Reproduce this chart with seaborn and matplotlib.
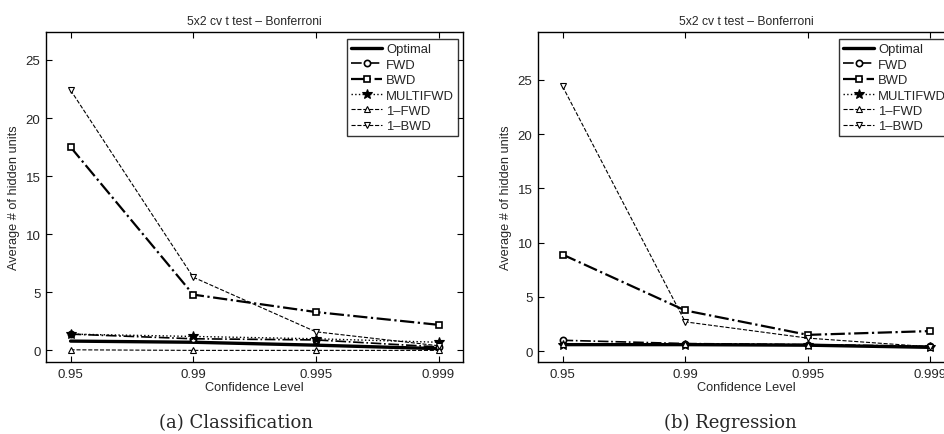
import matplotlib
matplotlib.use("Agg")
import matplotlib.pyplot as plt
import seaborn as sns
import numpy as np

levels = ["0.95", "0.99", "0.995", "0.999"]
series_names = ["Optimal", "FWD", "BWD", "MULTIFWD", "1\u2013FWD", "1\u2013BWD"]

cls_optimal = [0.8, 0.7, 0.45, 0.15]
cls_fwd = [1.4, 1.0, 0.9, 0.3]
cls_bwd = [17.5, 4.8, 3.3, 2.2]
cls_multifwd = [1.4, 1.2, 1.0, 0.7]
cls_1fwd = [0.05, 0.0, 0.0, 0.0]
cls_1bwd = [22.4, 6.3, 1.6, 0.4]

reg_optimal = [0.6, 0.6, 0.55, 0.35]
reg_fwd = [1.0, 0.7, 0.6, 0.45]
reg_bwd = [8.9, 3.75, 1.5, 1.85]
reg_multifwd = [0.6, 0.6, 0.6, 0.35]
reg_1fwd = [0.7, 0.7, 0.6, 0.4]
reg_1bwd = [24.4, 2.7, 1.2, 0.4]

title = "5x2 cv t test \u2013 Bonferroni"
xlabel = "Confidence Level"
ylabel = "Average # of hidden units"
captions = ["(a) Classification", "(b) Regression"]

sns.set_theme(style="white")
plt.rcParams["font.family"] = ["Liberation Sans", "DejaVu Sans"]

styles = [
    dict(linestyle="-", lw=2.4, marker=None),
    dict(linestyle="-.", lw=1.2, marker="o", mfc="white", ms=4.5, mew=1.2),
    dict(linestyle="-.", lw=1.6, marker="s", mfc="white", ms=4.5, mew=1.2),
    dict(linestyle=":", lw=1.0, marker="*", mfc="black", ms=7, mew=0.8),
    dict(linestyle="--", lw=0.8, marker="^", mfc="white", ms=5, mew=0.8),
    dict(linestyle="--", lw=0.8, marker="v", mfc="white", ms=5, mew=0.8),
]

fig = plt.figure(figsize=(9.45, 4.35), dpi=100)
ax1 = fig.add_axes([0.0487, 0.1655, 0.4413, 0.7586])
ax2 = fig.add_axes([0.5693, 0.1655, 0.4413, 0.7586])

panels = [
    (ax1, [cls_optimal, cls_fwd, cls_bwd, cls_multifwd, cls_1fwd, cls_1bwd], 27.4),
    (ax2, [reg_optimal, reg_fwd, reg_bwd, reg_multifwd, reg_1fwd, reg_1bwd], 29.4),
]

xpos = np.arange(1, len(levels) + 1)
for ax, data, ytop in panels:
    for name, vals, st in zip(series_names, data, styles):
        sns.lineplot(x=xpos, y=vals, ax=ax, color="black", label=name,
                     linestyle=st["linestyle"], lw=st["lw"],
                     marker=st["marker"], markerfacecolor=st.get("mfc"),
                     markeredgecolor="black", markersize=st.get("ms", 5),
                     markeredgewidth=st.get("mew", 1), errorbar=None)
    ax.set_xlim(0.8, 4.2)
    ax.set_ylim(-1, ytop)
    ax.set_xticks(xpos)
    ax.set_xticklabels(levels)
    ax.set_yticks([0, 5, 10, 15, 20, 25])
    ax.tick_params(direction="in", top=True, right=True, bottom=True, left=True,
                   length=4, width=0.8, labelsize=9.5, color="black", pad=4)
    for s in ax.spines.values():
        s.set_color("black")
        s.set_linewidth(1.0)
    ax.set_title(title, fontsize=8.7, pad=6)
    ax.set_xlabel(xlabel, fontsize=9.2, labelpad=1)
    ax.set_ylabel(ylabel, fontsize=9.2, labelpad=4)
    leg = ax.legend(loc="upper right", bbox_to_anchor=(0.988, 0.978),
                    fontsize=9.4, frameon=True, fancybox=False,
                    edgecolor="black", handlelength=2.4, handletextpad=0.3,
                    labelspacing=0.25, borderpad=0.3, borderaxespad=0.0)
    leg.get_frame().set_linewidth(1.0)

fig.text(0.25, 0.016, captions[0], ha="center", va="baseline", fontsize=13,
         family=["DejaVu Serif"])
fig.text(0.773, 0.016, captions[1], ha="center", va="baseline", fontsize=13,
         family=["DejaVu Serif"])

fig.savefig("out.png", dpi=100)
